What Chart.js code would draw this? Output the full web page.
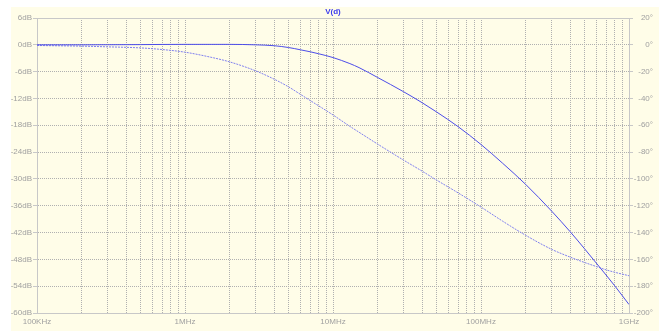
<!DOCTYPE html>
<html>
<head>
<meta charset="utf-8">
<script src="https://cdn.jsdelivr.net/npm/chart.js@4/dist/chart.umd.min.js"></script>
<style>
html,body{margin:0;padding:0;background:#ffffff;}
canvas{display:block;}
</style>
</head>
<body>
<canvas id="c" width="659" height="331"></canvas>
<script>
// ---- data ----
const title = "V(d)";
const freqs = [1e5, 2e5, 3e5, 5e5, 7e5, 1e6, 1.5e6, 2e6, 3e6, 4e6, 5e6, 6e6, 7e6, 8e6, 1e7, 1.3e7, 1.5e7, 2e7, 3e7, 4e7, 5e7, 7e7, 1e8, 1.4e8, 2e8, 3e8, 4e8, 5e8, 6e8, 7e8, 8e8, 1e9];
const magnitudeDb = [0, 0, 0.02, 0.05, 0.08, 0.1, 0.1, 0.1, 0.0, -0.2, -0.6, -1.1, -1.55, -2.0, -2.85, -4.2, -5.1, -7.3, -10.5, -12.95, -15.0, -18.3, -22.3, -26.5, -31.2, -37.2, -41.8, -45.6, -48.8, -51.5, -53.9, -58.1];
const phaseDeg = [-0.5, -1.0, -1.5, -2.3, -3.5, -5.5, -9.3, -12.7, -19.4, -25.6, -31.3, -36.8, -41.5, -45.5, -52.3, -60.8, -65.2, -74.0, -86.0, -94.2, -100.8, -110.4, -121.0, -131.5, -142.0, -152.5, -158.3, -162.3, -165.3, -167.8, -169.6, -172.2];
const xTickValues = [];
for (let e = 5; e <= 8; e++) for (let m = 1; m <= 9; m++) xTickValues.push(m * Math.pow(10, e));
xTickValues.push(1e9);
const xTickLabels = {1e5: "100KHz", 1e6: "1MHz", 1e7: "10MHz", 1e8: "100MHz", 1e9: "1GHz"};
const dbTicks = {min: -60, max: 6, step: 6};
const degTicks = {min: -200, max: 20, step: 20};

// ---- styles ----
const cream = "#fffde8";
const gridColor = "#b0b0b0";
const frameColor = "#c8c8c8";
const labelColor = "#a0a0a0";
const font = {family: "'Liberation Sans', Arial, sans-serif", size: 8};

const bgPlugin = {
  id: "bg",
  beforeDraw(chart) {
    const ctx = chart.ctx;
    ctx.save();
    ctx.fillStyle = "#ffffff";
    ctx.fillRect(0, 0, chart.width, chart.height);
    ctx.fillStyle = cream;
    ctx.fillRect(11, 7, chart.width - 11, chart.height - 7);
    ctx.restore();
  },
  beforeDatasetsDraw(chart) {
    const ctx = chart.ctx, a = chart.chartArea;
    ctx.save();
    ctx.strokeStyle = frameColor;
    ctx.lineWidth = 1;
    ctx.beginPath();
    ctx.moveTo(a.left, Math.round(a.top) + 0.5);
    ctx.lineTo(a.right, Math.round(a.top) + 0.5);
    ctx.stroke();
    ctx.restore();
  },
  afterDraw(chart) {
    const ctx = chart.ctx, a = chart.chartArea;
    ctx.save();
    ctx.fillStyle = "#3b3bee";
    ctx.font = "bold 8px 'Liberation Sans', Arial, sans-serif";
    ctx.textAlign = "center";
    ctx.textBaseline = "middle";
    ctx.fillText(title, (a.left + a.right) / 2, 12);
    ctx.restore();
  }
};

new Chart(document.getElementById("c"), {
  type: "line",
  data: {
    datasets: [
      {
        label: "magnitude",
        data: freqs.map((f, i) => ({x: f, y: magnitudeDb[i]})),
        yAxisID: "y",
        borderColor: "#4d4de8",
        borderWidth: 1,
        pointRadius: 0,
        cubicInterpolationMode: "monotone",
        fill: false
      },
      {
        label: "phase",
        data: freqs.map((f, i) => ({x: f, y: phaseDeg[i]})),
        yAxisID: "y2",
        borderColor: "#8080ef",
        borderWidth: 1,
        borderDash: [2, 1],
        pointRadius: 0,
        cubicInterpolationMode: "monotone",
        fill: false
      }
    ]
  },
  options: {
    responsive: false,
    animation: false,
    layout: {padding: {top: 18, right: 6, left: 0, bottom: 0}},
    plugins: {legend: {display: false}, tooltip: {enabled: false}, title: {display: false}},
    scales: {
      x: {
        type: "logarithmic",
        min: 1e5,
        max: 1e9,
        afterBuildTicks(s) { s.ticks = xTickValues.map(v => ({value: v})); },
        afterFit(s) { s.height = 18; },
        grid: {color: gridColor, drawTicks: false},
        border: {color: frameColor, dash: [1, 1]},
        ticks: {
          autoSkip: false, maxRotation: 0, padding: 4, color: labelColor, font: font,
          callback: (v) => xTickLabels[v] || ""
        }
      },
      y: {
        position: "left",
        min: dbTicks.min,
        max: dbTicks.max,
        afterFit(s) { s.width = 37; },
        grid: {color: gridColor, tickLength: 4, tickColor: frameColor},
        border: {color: frameColor, dash: [1, 1]},
        ticks: {stepSize: dbTicks.step, padding: 1, color: labelColor, font: font, callback: v => v + "dB"}
      },
      y2: {
        position: "right",
        min: degTicks.min,
        max: degTicks.max,
        afterFit(s) { s.width = 24; },
        grid: {drawOnChartArea: false, tickLength: 4, tickColor: frameColor},
        border: {color: frameColor},
        ticks: {stepSize: degTicks.step, crossAlign: "far", color: labelColor, font: font, callback: v => v + "°"}
      }
    }
  },
  plugins: [bgPlugin]
});
</script>
</body>
</html>
